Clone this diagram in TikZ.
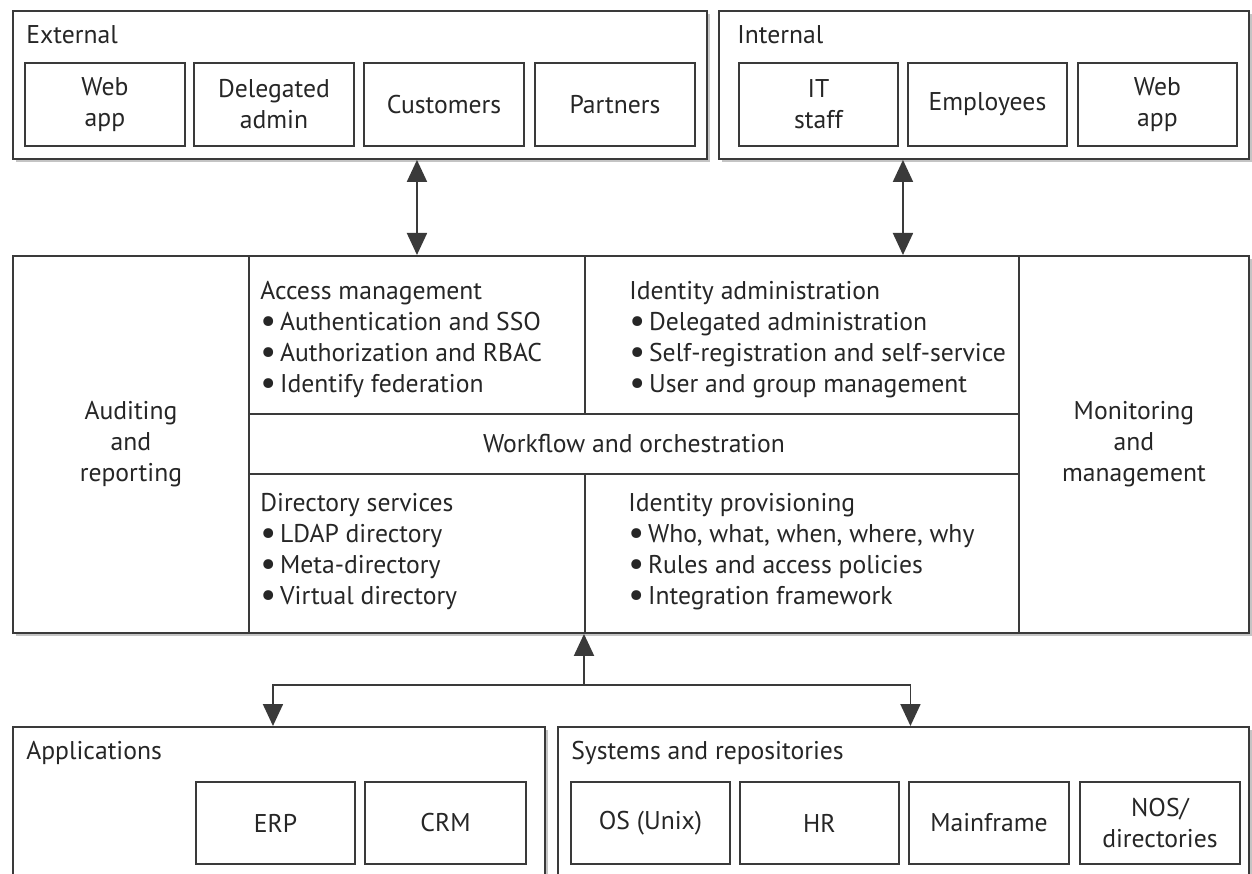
\documentclass[tikz,border=0pt]{standalone}
\usepackage{fontspec}
\setmainfont{PT Sans}
\usetikzlibrary{arrows.meta, calc, shadows}
\definecolor{cLine}{HTML}{3A3A3A}
\definecolor{cText}{HTML}{262626}
\definecolor{cShade}{HTML}{C4C4C4}
\newcommand{\itm}{\smash{\raisebox{-1.2pt}{\fontsize{20}{17.6}\selectfont\textbullet}}\hspace{2.2pt}}
\tikzset{
    x=0.02cm, y=-0.02cm, font=\fontsize{14.6}{17.6}\selectfont, text=cText,
    box/.style 2 args={minimum width=#1*0.02cm, minimum height=#2*0.02cm,
                       inner sep=0pt, anchor=north west},
    grp/.style={draw=cLine, line width=1.1pt, fill=white,
                drop shadow={shadow xshift=1.6pt, shadow yshift=-1.6pt,
                             fill=cShade, opacity=1}},
    cell/.style={draw=cLine, line width=1.1pt, align=center},
    item/.style={draw=cLine, line width=1.1pt, align=center},
    lbl/.style={inner sep=0pt, anchor=west},
    lst/.style={inner sep=0pt, anchor=north west, align=left},
    link/.style={-{Triangle[length=0.44cm, width=0.4cm]}, draw=cLine,
                 line width=1.1pt},
    dlink/.style={{Triangle[length=0.44cm, width=0.4cm]}-{Triangle[length=0.44cm, width=0.4cm]},
                  draw=cLine, line width=1.1pt},
}

\begin{document}
\begin{tikzpicture}
    \useasboundingbox (0,0) rectangle (1252,874);
    \clip (0,0) rectangle (1252,874);

    % users on top
    \node[grp, box={694}{148}] (ext) at (12,10) {};
    \node[lbl] (extl) at (26,35) {External};
    \node[item, box={160}{83}] (webx) at (24,62) {Web\\app};
    \node[item, box={160}{83}] (dadm) at (193,62) {Delegated\\admin};
    \node[item, box={160}{83}] (cust) at (363,62) {Customers};
    \node[item, box={160}{83}] (part) at (534,62) {Partners};

    \node[grp, box={530}{148}] (int) at (718,10) {};
    \node[lbl] (intl) at (737,35) {Internal};
    \node[item, box={159}{83}] (itst) at (738,62) {IT\\staff};
    \node[item, box={159}{83}] (empl) at (907,62) {Employees};
    \node[item, box={159}{83}] (webi) at (1077,62) {Web\\app};

    % identity core
    \node[grp, box={1236}{377}] (core) at (12,255) {};
    \node[cell, box={236}{377}] (aud) at (12,255) {Auditing\\and\\reporting};
    \node[cell, box={230}{377}] (mon) at (1018,255) {Monitoring\\and\\management};
    \node[cell, box={336}{158}] (am) at (248,255) {};
    \node[cell, box={434}{158}] (ia) at (584,255) {};
    \node[cell, box={770}{60}] (wf) at (248,413) {Workflow and orchestration};
    \node[cell, box={336}{159}] (ds) at (248,473) {};
    \node[cell, box={434}{159}] (ip) at (584,473) {};

    \node[lst] (aml) at (260,281) {Access management\\
        \itm Authentication and SSO\\
        \itm Authorization and RBAC\\
        \itm Identify federation};
    \node[lst] (ial) at (629,281) {Identity administration\\
        \itm Delegated administration\\
        \itm Self-registration and self-service\\
        \itm User and group management};
    \node[lst] (dsl) at (260,493) {Directory services\\
        \itm LDAP directory\\
        \itm Meta-directory\\
        \itm Virtual directory};
    \node[lst] (ipl) at (628,493) {Identity provisioning\\
        \itm Who, what, when, where, why\\
        \itm Rules and access policies\\
        \itm Integration framework};

    % back-end systems
    \node[grp, box={532}{220}] (apps) at (12,726) {};
    \node[lbl] (appsl) at (26,753) {Applications};
    \node[item, box={159}{82}] (erp) at (195,781) {ERP};
    \node[item, box={161}{82}] (crm) at (364,781) {CRM};

    \node[grp, box={691}{220}] (sys) at (557,726) {};
    \node[lbl] (sysl) at (571,753) {Systems and repositories};
    \node[item, box={159}{82}] (unix) at (570,781) {OS (Unix)};
    \node[item, box={159}{82}] (hr) at (739,781) {HR};
    \node[item, box={160}{82}] (mfr) at (908,781) {Mainframe};
    \node[item, box={160}{82}] (nos) at (1079,781) {NOS/\\directories};

    % connectors
    \coordinate (gap) at ($(itst.south east)!0.5!(empl.south west)$);
    \draw[dlink] (am.north |- ext.south) -- (am.north);
    \draw[dlink] (gap |- int.south) -- (gap |- core.north);

    \coordinate (hub) at (584,685);
    \draw[link] (hub) -- (hub |- core.south);
    \draw[link] (hub) -| ($(apps.north)+(-6,0)$);
    \draw[link] (hub) -| ($(sys.north)+(7,0)$);
\end{tikzpicture}
\end{document}
